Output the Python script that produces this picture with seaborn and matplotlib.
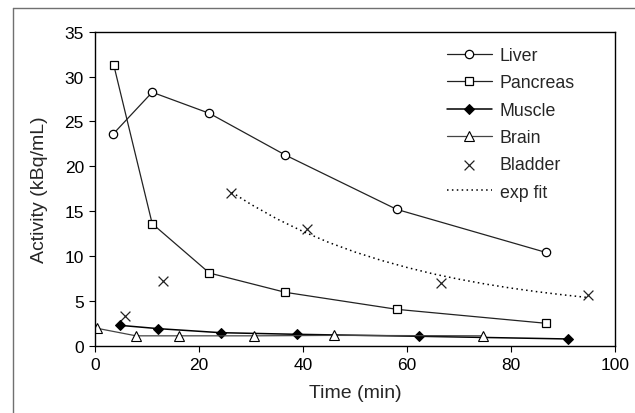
import matplotlib
matplotlib.use("Agg")
import matplotlib.pyplot as plt
from matplotlib.lines import Line2D
import seaborn as sns

# ---- data ----
liver_t = [3.5, 11.0, 22.0, 36.6, 58.0, 86.7]
liver_v = [23.6, 28.25, 25.9, 21.25, 15.2, 10.4]

pancreas_t = [3.6, 11.0, 22.0, 36.6, 58.1, 86.7]
pancreas_v = [31.3, 13.6, 8.1, 5.95, 4.05, 2.5]

muscle_t = [4.8, 12.2, 24.2, 38.8, 62.3, 91.0]
muscle_v = [2.27, 1.9, 1.45, 1.27, 1.05, 0.75]

brain_t = [0.4, 7.9, 16.2, 30.6, 46.0, 74.6]
brain_v = [1.94, 1.1, 1.1, 1.1, 1.15, 1.1]

bladder_t = [5.8, 13.1, 26.2, 40.7, 66.5, 94.9]
bladder_v = [3.27, 7.2, 17.0, 13.0, 6.95, 5.6]

fit_t = [26.3, 30, 35, 40, 45, 50, 55, 60, 65, 70, 75, 80, 85, 90, 94.5]
fit_v = [17.1, 15.75, 14.13, 12.73, 11.5, 10.44, 9.52, 8.72, 8.01, 7.41, 6.88, 6.42,
         6.02, 5.67, 5.39]

x_ticks = [0, 20, 40, 60, 80, 100]
y_ticks = [0, 5, 10, 15, 20, 25, 30, 35]

sns.set_theme(style="ticks")
plt.rcParams['font.family'] = ['Liberation Sans', 'DejaVu Sans']

fig = plt.figure(figsize=(6.35, 4.14), dpi=100)
ax = fig.add_axes([95/635, 1 - 346.7/414, (615-95)/635, (346.7-32.7)/414])

lc = '#222222'
sns.lineplot(x=liver_t, y=liver_v, ax=ax, color=lc, lw=0.9, marker='o', ms=6,
             mfc='white', mec='black', mew=0.9, label='Liver')
sns.lineplot(x=pancreas_t, y=pancreas_v, ax=ax, color=lc, lw=0.9, marker='s', ms=5.5,
             mfc='white', mec='black', mew=0.9, label='Pancreas')
sns.lineplot(x=muscle_t, y=muscle_v, ax=ax, color='black', lw=1.1, marker='D', ms=5,
             mfc='black', mec='black', label='Muscle')
sns.lineplot(x=brain_t, y=brain_v, ax=ax, color='#444444', lw=0.9, marker='^', ms=6.5,
             mfc='white', mec='black', mew=0.8, label='Brain')
sns.scatterplot(x=bladder_t, y=bladder_v, ax=ax, color='#222222', marker='x', s=50,
                linewidth=0.9, label='Bladder')
sns.lineplot(x=fit_t, y=fit_v, ax=ax, color='black', lw=1.1, linestyle=(0, (1, 2.2)),
             label='exp fit')

ax.set_xlim(0, 100)
ax.set_ylim(0, 35)
ax.set_xticks(x_ticks)
ax.set_yticks(y_ticks)
ax.tick_params(direction='out', length=4, width=0.8, labelsize=12.5, colors='black', pad=4)
for s in ax.spines.values():
    s.set_visible(True)
    s.set_color('black')
    s.set_linewidth(1.0)
ax.set_xlabel('Time (min)', fontsize=14, labelpad=9)
ax.set_ylabel('Activity (kBq/mL)', fontsize=14, labelpad=12)

leg = ax.legend(loc='upper left', bbox_to_anchor=(440/635, 1 - 41/414),
                bbox_transform=fig.transFigure, frameon=False, fontsize=12.8,
                handlelength=2.5, labelspacing=0.58, handletextpad=0.45, borderaxespad=0)

# outer frame (gray) top and left
fig.add_artist(Line2D([13/635, 13/635], [0, 1 - 9/414], transform=fig.transFigure,
                      color='#707070', lw=1.0))
fig.add_artist(Line2D([13/635, 1], [1 - 9/414, 1 - 9/414], transform=fig.transFigure,
                      color='#707070', lw=1.0))

fig.savefig('out.png', dpi=100)
